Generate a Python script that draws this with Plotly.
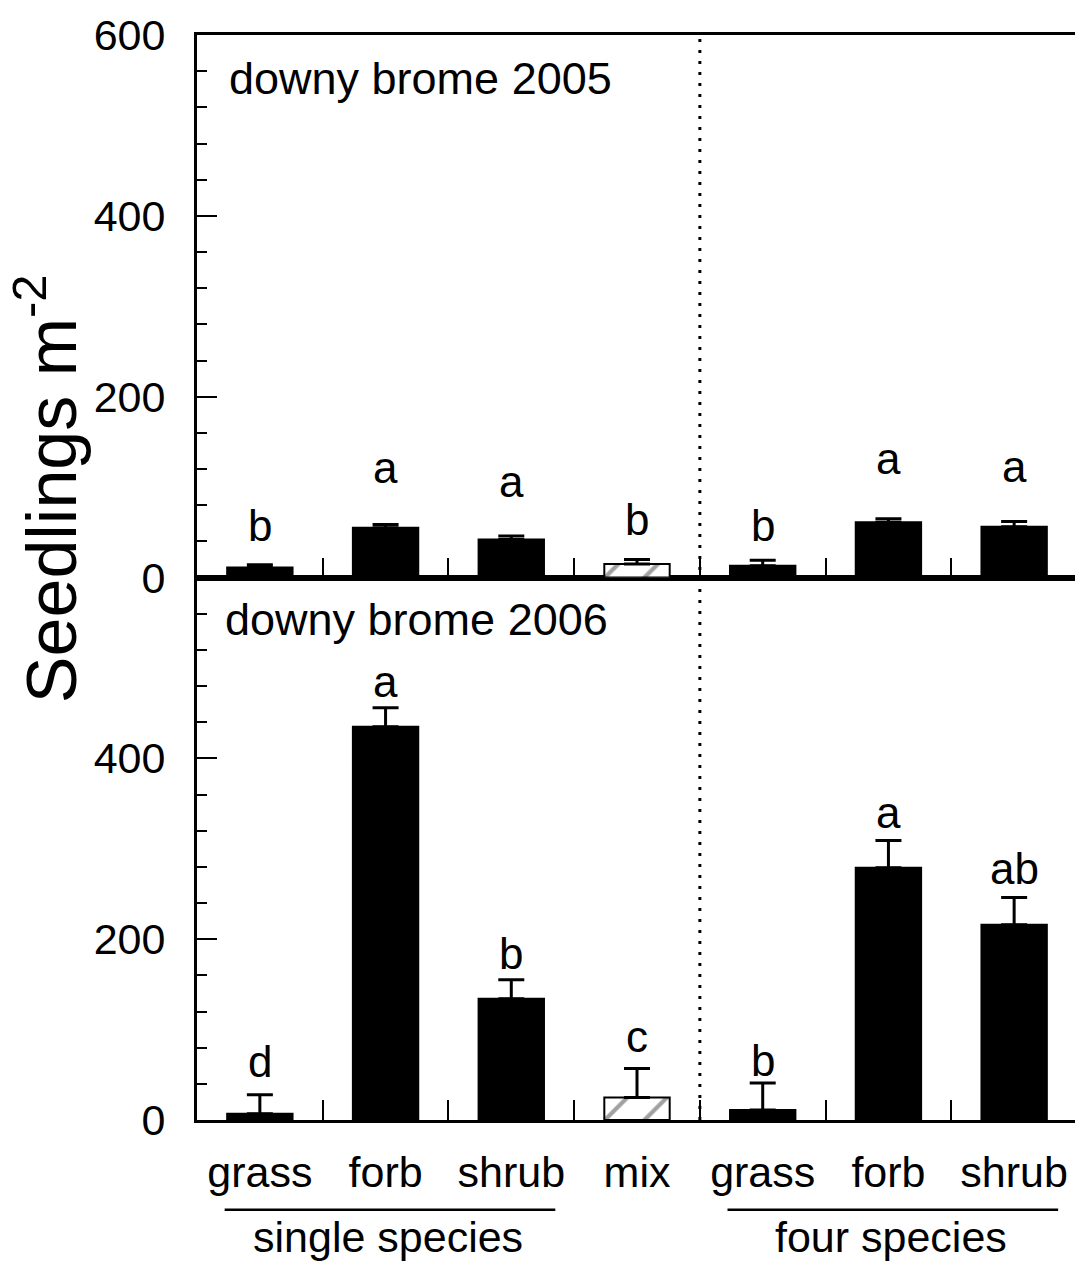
import plotly.graph_objects as go

# ---------------- data ----------------
categories = ["grass", "forb", "shrub", "mix", "grass", "forb", "shrub"]
group_names = ["single species", "four species"]
group_members = [[0, 1, 2], [4, 5, 6]]

mean_2005 = [11, 55, 42, 15, 13, 61, 56]
se_2005 = [3, 3.5, 4, 5, 6, 4, 6]
letters_2005 = ["b", "a", "a", "b", "b", "a", "a"]
letter_y_2005 = [39, 103, 88, 46, 39, 113, 105]

mean_2006 = [7, 435, 134, 25, 11, 279, 216]
se_2006 = [21, 21, 21, 32, 30, 30, 30]
letters_2006 = ["d", "a", "b", "c", "b", "a", "ab"]
letter_y_2006 = [46, 467, 166, 74, 48, 322, 260]

y_ticks_top = [0, 200, 400, 600]
y_ticks_bottom = [0, 200, 400]
panel_titles = ["downy brome 2005", "downy brome 2006"]
y_title = "Seedlings m<sup>-2</sup>"

# ---------------- style ----------------
FONT = "Liberation Sans, Arial, Helvetica, sans-serif"
FS = 43
xpos = list(range(len(categories)))
is_mix = [c == "mix" for c in categories]
bar_colors = ["white" if m else "black" for m in is_mix]
bar_patterns = ["/" if m else "" for m in is_mix]

fig = go.Figure()


def add_panel(means, ses, xa, ya):
    fig.add_trace(go.Bar(
        x=xpos, y=means, xaxis=xa, yaxis=ya, width=0.52,
        marker=dict(color=bar_colors,
                    line=dict(color="black", width=2),
                    pattern=dict(shape=bar_patterns, fgcolor="black",
                                 size=28, solidity=0.15, fillmode="overlay")),
        error_y=dict(type="data", array=ses, arrayminus=[0] * len(ses),
                     symmetric=False, color="black", thickness=3, width=13),
        showlegend=False, hoverinfo="skip",
    ))


add_panel(mean_2005, se_2005, "x2", "y2")
add_panel(mean_2006, se_2006, "x", "y")

# letters
for letters, ly, xr, yr in [
    (letters_2005, letter_y_2005, "x2", "y2"),
    (letters_2006, letter_y_2006, "x", "y"),
]:
    for i, (lt, yv) in enumerate(zip(letters, ly)):
        fig.add_annotation(x=xpos[i], y=yv, xref=xr, yref=yr, text=lt,
                           showarrow=False, yanchor="bottom", yshift=-10,
                           font=dict(family=FONT, size=44, color="black"))

# panel titles
fig.add_annotation(x=0.034, y=1.0, xref="paper", yref="paper",
                   text=panel_titles[0], showarrow=False, xanchor="left",
                   yanchor="top", yshift=-16,
                   font=dict(family=FONT, size=45, color="black"))
fig.add_annotation(x=0.029, y=0.5, xref="paper", yref="paper",
                   text=panel_titles[1], showarrow=False, xanchor="left",
                   yanchor="top", yshift=-14,
                   font=dict(family=FONT, size=45, color="black"))

# y title
fig.add_annotation(x=-0.172, y=0.582, xref="paper", yref="paper",
                   text=y_title, showarrow=False, textangle=-90,
                   xanchor="center", yanchor="middle",
                   font=dict(family=FONT, size=70, color="black"))

# group underline + labels
for name, members in zip(group_names, group_members):
    c = sum(members) / len(members)
    fig.add_shape(type="line", xref="x", yref="paper",
                  x0=c - 1.28, x1=c + 1.35, y0=-0.0827, y1=-0.0827,
                  line=dict(color="black", width=2.5))
    fig.add_annotation(x=c + 0.02, y=-0.108, xref="x", yref="paper", text=name,
                       showarrow=False, xanchor="center", yanchor="middle",
                       font=dict(family=FONT, size=FS, color="black"))

# dotted divider between single and four species
div_x = (group_members[0][-1] + group_members[1][0]) / 2 + 0.5
fig.add_shape(type="line", xref="x", yref="paper", x0=div_x, x1=div_x,
              y0=0, y1=1, line=dict(color="black", width=3, dash="3px,8px"))

boundaries = [i + 0.5 for i in xpos[:-1]]

xaxis_common = dict(
    range=[-0.5, len(categories) - 0.5], showline=True, mirror=True,
    linecolor="black", linewidth=3, showgrid=False, zeroline=False,
    tickmode="array", tickvals=xpos, ticktext=categories,
    ticks="",
    minor=dict(tickmode="array", tickvals=boundaries, ticks="inside",
               ticklen=20, tickwidth=2, tickcolor="black", showgrid=False),
    tickfont=dict(family=FONT, size=FS, color="black"),
)

yaxis_common = dict(
    range=[0, 600], showline=True, mirror=True, linecolor="black",
    linewidth=3, showgrid=False, zeroline=False,
    tickmode="array",
    ticks="inside", ticklen=20, tickwidth=2, tickcolor="black",
    minor=dict(tickmode="linear", tick0=0, dtick=40, ticks="inside",
               ticklen=10, tickwidth=1.5, tickcolor="black", showgrid=False),
    tickfont=dict(family=FONT, size=FS, color="black"),
    ticklabelstandoff=20,
)

fig.update_layout(
    width=1075, height=1255,
    margin=dict(l=189, r=3, t=24, b=143),
    paper_bgcolor="white", plot_bgcolor="white",
    xaxis=dict(**xaxis_common, anchor="y", showticklabels=True,
               ticklabelstandoff=12),
    xaxis2=dict(**xaxis_common, anchor="y2", showticklabels=False,
                matches="x"),
    yaxis=dict(**yaxis_common, domain=[0, 0.5], anchor="x",
               tickvals=y_ticks_bottom),
    yaxis2=dict(**yaxis_common, domain=[0.5, 1], anchor="x2",
                tickvals=y_ticks_top),
)

fig.write_html("out.html")
